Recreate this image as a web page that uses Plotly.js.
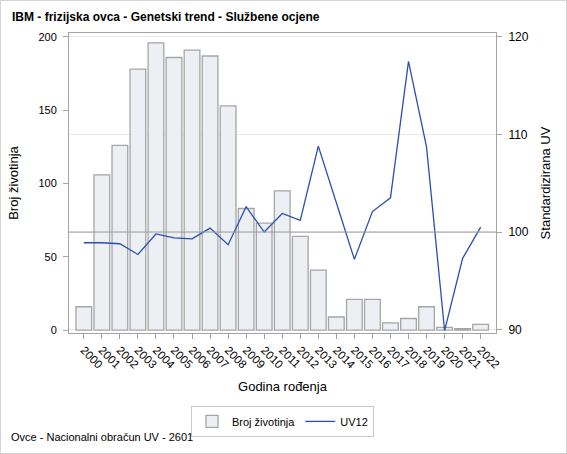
<!DOCTYPE html>
<html>
<head>
<meta charset="utf-8">
<script src="https://cdn.plot.ly/plotly-3.0.1.min.js"></script>
<style>
  html, body { margin: 0; padding: 0; background: #fff; }
  #chart { position: absolute; left: 0; top: 0; width: 565px; height: 452px; border: 1px solid #d4d4d4; }
</style>
</head>
<body>
<div id="chart"></div>
<script>
/* Genetic trend chart: animal counts (bars, left axis) + standardised breeding value (line, right axis) */

const YEARS = ['2000','2001','2002','2003','2004','2005','2006','2007','2008','2009','2010','2011',
               '2012','2013','2014','2015','2016','2017','2018','2019','2020','2021','2022'];
const ANIMAL_COUNT = [16, 106, 126, 178, 196, 186, 191, 187, 153, 83, 73, 95,
                      64, 41, 9, 21, 21, 5, 8, 16, 2, 1, 4];
const UV12 = [98.9, 98.9, 98.8, 97.7, 99.8, 99.4, 99.3, 100.4, 98.7, 102.6, 100.0, 101.9,
              101.2, 108.8, 103.0, 97.2, 102.1, 103.5, 117.5, 108.7, 89.9, 97.3, 100.5];

const LEFT_TICKS = [0, 50, 100, 150, 200];
const RIGHT_TICKS = [90, 100, 110, 120];
const UV_REFERENCE = 100;

const FONT = 'Liberation Sans, Arial, sans-serif';
const FRAME = '#a3a3a3';

const barTrace = {
  x: YEARS,
  y: ANIMAL_COUNT,
  type: 'bar',
  name: 'Broj životinja',
  marker: { color: '#eceff4', line: { color: '#a6a6a6', width: 1.3 } },
  yaxis: 'y',
};

const lineTrace = {
  x: YEARS,
  y: UV12,
  type: 'scatter',
  mode: 'lines',
  name: 'UV12',
  line: { color: '#2a4fb0', width: 1.3 },
  yaxis: 'y2',
};

const layout = {
  width: 565,
  height: 452,
  margin: { l: 68, r: 70, t: 32, b: 120 },
  paper_bgcolor: '#fff',
  plot_bgcolor: '#fff',
  font: { family: FONT, size: 11, color: '#000' },
  title: {
    text: '<b>IBM - frizijska ovca - Genetski trend - Službene ocjene</b>',
    font: { size: 12, family: FONT, color: '#000' },
    xref: 'container', x: 11 / 565, xanchor: 'left',
    yref: 'container', y: 1 - 16 / 452, yanchor: 'middle',
  },
  bargap: 0.13,
  showlegend: true,
  legend: {
    orientation: 'h',
    xref: 'paper', x: 0.5, xanchor: 'center',
    yref: 'paper', y: -0.243, yanchor: 'top',
    bordercolor: '#c8c8c8', borderwidth: 1,
    font: { size: 11, family: FONT },
    itemwidth: 30,
  },
  xaxis: {
    type: 'category',
    range: [-0.82, 22.85],
    tickangle: 45,
    ticks: 'outside', ticklen: 5, tickcolor: FRAME,
    showline: true, linecolor: FRAME, mirror: true,
    showgrid: false,
    tickfont: { size: 11.5 },
    title: { text: 'Godina rođenja', font: { size: 13 }, standoff: 11 },
  },
  yaxis: {
    range: [-1.9, 202.7],
    tickvals: LEFT_TICKS,
    ticks: 'outside', ticklen: 5, tickcolor: FRAME,
    showline: true, linecolor: FRAME,
    showgrid: false, zeroline: false,
    ticklabelstandoff: 4,
    title: { text: 'Broj životinja', font: { size: 13 }, standoff: 16 },
  },
  yaxis2: {
    overlaying: 'y',
    side: 'right',
    range: [89.65, 120.4],
    tickvals: RIGHT_TICKS,
    ticks: 'outside', ticklen: 5, tickcolor: FRAME,
    showline: true, linecolor: FRAME,
    showgrid: true, gridcolor: '#e9e9e9', zeroline: false,
    ticklabelstandoff: 4,
    tickfont: { size: 12 },
    title: { text: 'Standardizirana UV', font: { size: 13 }, standoff: 13 },
  },
  shapes: [{
    type: 'line', layer: 'above',
    xref: 'paper', x0: 0, x1: 1,
    yref: 'y2', y0: UV_REFERENCE, y1: UV_REFERENCE,
    line: { color: '#9a9a9a', width: 1 },
  }],
  annotations: [{
    text: 'Ovce - Nacionalni obračun UV - 2601',
    xref: 'paper', x: -60 / 427, xanchor: 'left',
    yref: 'paper', y: -0.347, yanchor: 'middle',
    showarrow: false,
    font: { size: 11, family: FONT, color: '#000' },
  }],
};

Plotly.newPlot('chart', [barTrace, lineTrace], layout, {
  displayModeBar: false,
  staticPlot: true,
});
</script>
</body>
</html>
